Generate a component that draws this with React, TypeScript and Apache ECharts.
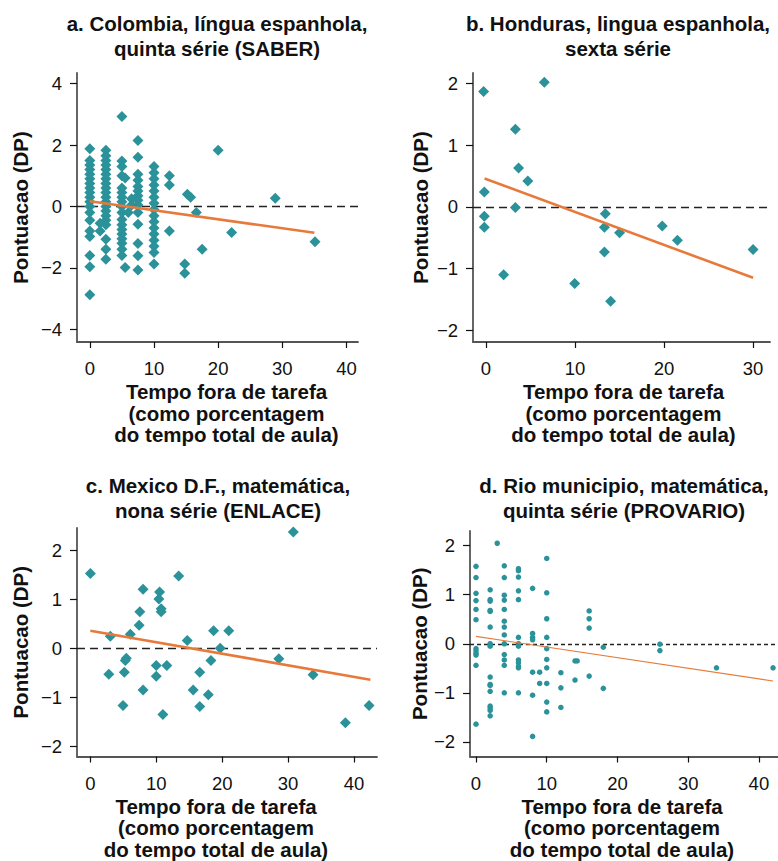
import React, { useEffect, useRef } from "react";
import * as echarts from "echarts";

// ---------- data ----------
const titles = [
  "a. Colombia, língua espanhola,\nquinta série (SABER)",
  "b. Honduras, lingua espanhola,\nsexta série",
  "c. Mexico D.F., matemática,\nnona série (ENLACE)",
  "d. Rio municipio, matemática,\nquinta série (PROVARIO)",
];
const xAxisName = "Tempo fora de tarefa\n(como porcentagem\ndo tempo total de aula)";
const yAxisName = "Pontuacao (DP)";

const xTicks = [0, 10, 20, 30, 40];
const xTicksB = [0, 10, 20, 30];
const yTicksA = [-4, -2, 0, 2, 4];
const yTicksBCD = [-2, -1, 0, 1, 2];

// a. Colombia
const colombiaPoints: [number, number][] = [
  [0, 1.88], [0, 1.5], [0, 1.35], [0, 1.2], [0, 1.05], [0, 0.9], [0, 0.75], [0, 0.6], [0, 0.45], [0, 0.3],
  [0, 0.15], [0, 0.0], [0, -0.2], [0, -0.45], [0, -0.8], [0, -0.98], [0, -1.6], [0, -1.97], [0, -2.88],
  [2.5, 1.83], [2.5, 1.65], [2.5, 1.5], [2.5, 1.35], [2.5, 1.2], [2.5, 1.05], [2.5, 0.9], [2.5, 0.75],
  [2.5, 0.6], [2.5, 0.45], [2.5, 0.3], [2.5, 0.15], [2.5, 0.0], [2.5, -0.15], [2.5, -0.3], [2.5, -0.45],
  [2.5, -0.6], [2.5, -1.07], [2.5, -1.4], [2.5, -1.72], [1.6, -0.8], [1.6, -0.55],
  [5, 2.93], [5, 1.48], [5, 1.3], [5, 1.0], [5, 0.6], [5, 0.45], [5, 0.3], [5, 0.15], [5, 0.0], [5, -0.2],
  [5, -0.43], [5, -0.6], [5, -0.75], [5, -0.9], [5, -1.05], [5, -1.2], [5, -1.4], [5, -1.6],
  [5.5, 0.93], [5.5, -1.99], [6, -0.2], [6.5, 0.25], [6.5, 0.05],
  [7.5, 2.15], [7.5, 1.6], [7.5, 1.05], [7.5, 0.85], [7.5, 0.65], [7.5, 0.5], [7.5, 0.35], [7.5, 0.2],
  [7.5, 0.05], [7.5, -0.2], [7.5, -0.58], [7.5, -1.21], [7.5, -1.61], [7.5, -2.07],
  [10, 1.3], [10, 1.1], [10, 0.9], [10, 0.7], [10, 0.5], [10, 0.3], [10, 0.1], [10, -0.1], [10, -0.3],
  [10, -0.5], [10, -0.7], [10, -0.9], [10, -1.1], [10, -1.3], [10, -1.5], [10, -1.88],
  [12.4, 1.0], [12.4, 0.7], [12.4, -0.8],
  [15.2, 0.4], [15.7, 0.3], [16.6, -0.2], [14.8, -1.88], [14.8, -2.18], [17.5, -1.4],
  [20, 1.83], [22.1, -0.85], [28.9, 0.27], [35.1, -1.15],
];
const colombiaFit: [number, number][] = [[0, 0.17], [35, -0.86]];

// b. Honduras
const hondurasPoints: [number, number][] = [
  [-0.27, 1.87], [6.55, 2.02], [3.3, 1.26], [3.66, 0.63], [4.7, 0.42], [-0.19, 0.24], [3.3, -0.01],
  [-0.19, -0.15], [-0.19, -0.33], [1.98, -1.1], [9.96, -1.24], [13.4, -0.11], [13.3, -0.33], [15, -0.42],
  [13.3, -0.73], [14, -1.53], [19.8, -0.31], [21.5, -0.54], [30, -0.69],
];
const hondurasFit: [number, number][] = [[-0.16, 0.46], [30, -1.15]];

// c. Mexico D.F.
const mexicoPoints: [number, number][] = [
  [0, 1.53], [3.03, 0.25], [2.8, -0.53], [6.06, 0.29], [5.45, -0.2], [5.3, -0.25], [5.15, -0.49],
  [4.95, -1.17], [7.4, 0.47], [7.5, 0.75], [8.0, 1.21], [8.0, -0.85], [10.5, 1.15], [10.4, 1.01],
  [10.75, 0.81], [10.75, 0.75], [10, -0.35], [10, -0.57], [11.6, -0.35], [11, -1.35], [13.4, 1.48],
  [14.7, 0.16], [16.6, -0.49], [15.6, -0.85], [16.6, -1.19], [17.9, -0.95], [18.3, -0.25], [18.7, 0.36],
  [19.7, 0.0], [21, 0.36], [28.6, -0.21], [33.8, -0.54], [38.7, -1.52], [42.3, -1.17], [30.8, 2.38],
];
const mexicoFit: [number, number][] = [[0, 0.36], [42.5, -0.64]];

// d. Rio municipio
const rioPoints: [number, number][] = [
  [0, 1.58], [0, 1.35], [0, 1.03], [0, 0.88], [0, 0.7], [0, 0.49], [0, -0.1], [0, -0.15], [0, -0.2],
  [0, -0.23], [0, -0.44], [0, -1.64],
  [2, 1.1], [2, 0.9], [2, 0.87], [2, 0.68], [2, 0.66], [2, 0.34], [2, 0.0], [2, -0.05], [2, -0.68],
  [2, -0.83], [2, -0.85], [2, -0.97], [2, -1.27], [2, -1.31], [2, -1.36], [2, -1.47],
  [3, 2.05],
  [4, 1.59], [4, 1.35], [4, 0.99], [4, 0.89], [4, 0.7], [4, 0.46], [4, 0.34], [4, 0.18], [4, 0.0],
  [4, -0.22], [4, -0.33], [4, -0.44], [4, -1.0],
  [6, 1.53], [6, 1.49], [6, 1.36], [6, 1.08], [6, 0.9], [6, 0.13], [6, 0.0], [6, -0.05], [6, -0.33],
  [6, -0.39], [6, -0.46], [6, -0.49], [6, -1.0],
  [8, 1.13], [8, 0.21], [8, 0.13], [8, 0.08], [8, -0.58], [8, -1.05], [8, -1.89], [9, -0.58], [9, -0.81],
  [10, 1.74], [10, 1.04], [10, 0.51], [10, 0.13], [10, -0.1], [10, -0.32], [10, -0.49], [10, -0.81],
  [10, -1.19], [10, -1.39],
  [12, -0.59], [12, -0.9], [12, -1.3], [14, -0.35], [14.3, -0.35], [14, -0.74],
  [16, 0.67], [16, 0.51], [16, 0.32], [16, -0.66], [18, -0.07], [18, -0.91],
  [26, -0.01], [26, -0.14], [34, -0.49], [42, -0.49],
];
const rioFit: [number, number][] = [[0, 0.15], [42, -0.76]];

// ---------- styling ----------
const FONT = '"Liberation Sans", Arial, Helvetica, sans-serif';
const TEAL = "#2b929a";
const ORANGE = "#e77a3b";

const minus = (v: number) => (v < 0 ? "\u2212" + Math.abs(v) : String(v));

type Panel = {
  title: string;
  points: [number, number][];
  fit: [number, number][];
  grid: { left: number; top: number; width: number; height: number };
  xRange: [number, number];
  yRange: [number, number];
  xTicks: number[];
  yTicks: number[];
  titleX: number;
  titleY: number;
  yNameGap: number;
  xNamePad: number[];
  symbol: string;
  symbolSize: number;
  fitWidth: number;
  dash: number[];
  dashWidth: number;
};

const panels: Panel[] = [
  {
    title: titles[0], points: colombiaPoints, fit: colombiaFit,
    grid: { left: 77, top: 73, width: 281, height: 269 },
    xRange: [-2, 41.8], yRange: [-4.42, 4.35], xTicks, yTicks: yTicksA,
    titleX: 217, titleY: 11, yNameGap: 46, xNamePad: [0, 0, 0, 18],
    symbol: "diamond", symbolSize: 11, fitWidth: 2.6, dash: [8, 5], dashWidth: 1.4,
  },
  {
    title: titles[1], points: hondurasPoints, fit: hondurasFit,
    grid: { left: 473, top: 73, width: 297, height: 269 },
    xRange: [-1.46, 31.9], yRange: [-2.19, 2.17], xTicks: xTicksB, yTicks: yTicksBCD,
    titleX: 618, titleY: 11, yNameGap: 42, xNamePad: [0, 0, 0, 4],
    symbol: "diamond", symbolSize: 11, fitWidth: 2.6, dash: [8, 5], dashWidth: 1.4,
  },
  {
    title: titles[2], points: mexicoPoints, fit: mexicoFit,
    grid: { left: 77, top: 528, width: 300, height: 233 },
    xRange: [-2.03, 43.5], yRange: [-2.21, 2.46], xTicks, yTicks: yTicksBCD,
    titleX: 218, titleY: 473, yNameGap: 46, xNamePad: [0, 22, 0, 0],
    symbol: "diamond", symbolSize: 11, fitWidth: 2.6, dash: [8, 5], dashWidth: 1.4,
  },
  {
    title: titles[3], points: rioPoints, fit: rioFit,
    grid: { left: 470, top: 531, width: 308, height: 232 },
    xRange: [-0.85, 42.7], yRange: [-2.3, 2.3], xTicks, yTicks: yTicksBCD,
    titleX: 624, titleY: 473, yNameGap: 37, xNamePad: [0, 4, 0, 0],
    symbol: "circle", symbolSize: 5.5, fitWidth: 1.1, dash: [4, 3], dashWidth: 1.4,
  },
];

export default function App() {
  const ref = useRef<HTMLDivElement>(null);

  useEffect(() => {
    document.body.style.margin = "0";
    if (!ref.current) return;
    const chart = echarts.init(ref.current, undefined, { renderer: "svg" });

    const option: any = {
      animation: false,
      backgroundColor: "#ffffff",
      title: panels.map((p) => ({
        text: p.title,
        left: p.titleX,
        top: p.titleY,
        textAlign: "center",
        padding: 0,
        textStyle: {
          fontFamily: FONT,
          fontSize: 20.5,
          fontWeight: "bold",
          color: "#111",
          lineHeight: 25,
        },
      })),
      grid: panels.map((p) => ({ ...p.grid, containLabel: false })),
      xAxis: panels.map((p, i) => ({
        type: "value",
        gridIndex: i,
        min: p.xRange[0],
        max: p.xRange[1],
        name: xAxisName,
        nameLocation: "middle",
        nameGap: 39,
        nameTextStyle: {
          fontFamily: FONT,
          fontSize: 20.5,
          fontWeight: "bold",
          color: "#111",
          lineHeight: 21.5,
          padding: p.xNamePad,
          verticalAlign: "top",
        },
        splitLine: { show: false },
        axisLine: { show: true, onZero: false, lineStyle: { color: "#555", width: 1.8 } },
        axisTick: {
          show: true,
          inside: false,
          length: 6,
          customValues: p.xTicks,
          lineStyle: { color: "#111", width: 1.2 },
        },
        axisLabel: {
          customValues: p.xTicks,
          margin: 17,
          fontFamily: FONT,
          fontSize: 18.5,
          color: "#111",
          formatter: (v: number) => minus(v),
        },
      })),
      yAxis: panels.map((p, i) => ({
        type: "value",
        gridIndex: i,
        min: p.yRange[0],
        max: p.yRange[1],
        name: yAxisName,
        nameLocation: "middle",
        nameRotate: 90,
        nameGap: p.yNameGap,
        nameTextStyle: {
          fontFamily: FONT,
          fontSize: 20.5,
          fontWeight: "bold",
          color: "#111",
        },
        splitLine: { show: false },
        axisLine: { show: true, onZero: false, lineStyle: { color: "#555", width: 1.8 } },
        axisTick: {
          show: true,
          inside: false,
          length: 7,
          customValues: p.yTicks,
          lineStyle: { color: "#111", width: 1.2 },
        },
        axisLabel: {
          customValues: p.yTicks,
          margin: 15,
          fontFamily: FONT,
          fontSize: 18.5,
          color: "#111",
          formatter: (v: number) => minus(v),
        },
      })),
      series: panels.flatMap((p, i) => [
        {
          type: "scatter",
          xAxisIndex: i,
          yAxisIndex: i,
          data: p.points,
          symbol: p.symbol,
          symbolSize: p.symbolSize,
          itemStyle: { color: TEAL, opacity: 1 },
          z: 3,
          markLine: {
            silent: true,
            symbol: ["none", "none"],
            label: { show: false },
            lineStyle: { color: "#222", type: p.dash, width: p.dashWidth },
            data: [{ yAxis: 0 }],
            z: 2,
          },
        },
        {
          type: "line",
          xAxisIndex: i,
          yAxisIndex: i,
          data: p.fit,
          symbol: "none",
          lineStyle: { color: ORANGE, width: p.fitWidth },
          z: 4,
        },
      ]),
    };

    chart.setOption(option);
    return () => chart.dispose();
  }, []);

  return <div ref={ref} style={{ width: 778, height: 861 }} />;
}
